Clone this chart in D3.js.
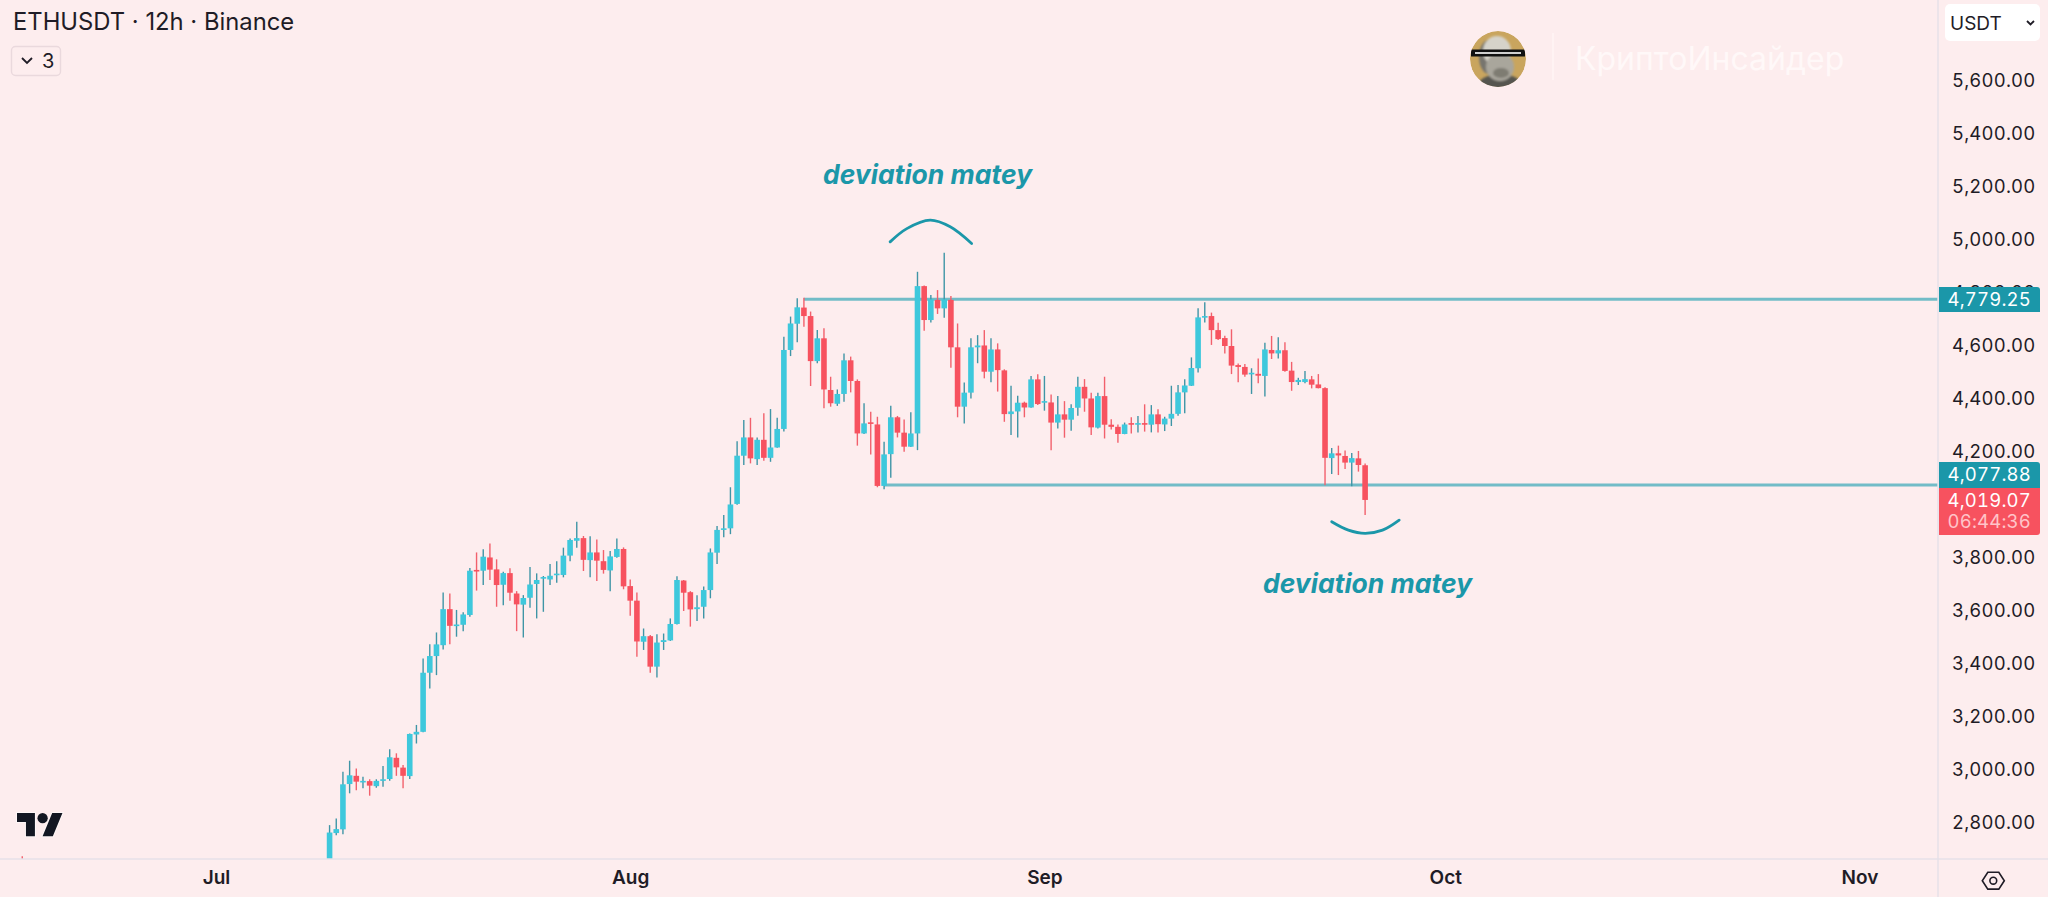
<!DOCTYPE html>
<html>
<head>
<meta charset="utf-8">
<title>ETHUSDT 12h</title>
<script src="https://cdn.jsdelivr.net/npm/d3@7"></script>
<style>
  html, body { margin: 0; padding: 0; background: #fdedee; overflow: hidden; }
  svg { display: block; }
  text { font-family: Inter, "Noto Sans", sans-serif; }
  .nums, .nums text { font-variant-numeric: tabular-nums; font-feature-settings: "tnum"; }
</style>
</head>
<body>
<div id="chart-area"></div>
<script>
// candles are 12h apart, starting at firstCandle
const firstCandle = Date.UTC(2025, 6, 9, 12);

const opens = [
  2641,2762,2776,2947,2978,2953,2958,2939,2959,2966,
  3046,3009,2977,3134,3144,3367,3430,3471,3607,3543,
  3548,3585,3755,3752,3802,3757,3699,3743,3666,3624,
  3650,3702,3723,3719,3737,3736,3809,3865,3875,3792,
  3821,3788,3753,3804,3834,3694,3639,3484,3505,3390,
  3483,3489,3551,3715,3671,3607,3616,3679,3820,3907,
  3912,4004,4186,4255,4173,4246,4178,4217,4287,4585,
  4684,4745,4713,4543,4629,4434,4382,4419,4546,4468,
  4270,4312,4304,4072,4192,4331,4273,4220,4270,4826,
  4698,4774,4742,4774,4595,4371,4424,4595,4602,4503,
  4587,4508,4343,4353,4386,4368,4474,4387,4387,4311,
  4342,4322,4367,4446,4402,4292,4411,4303,4295,4268,
  4309,4304,4309,4303,4342,4304,4326,4344,4425,4450,
  4516,4707,4713,4660,4630,4600,4528,4521,4495,4495,
  4487,4585,4572,4584,4507,4464,4464,4474,4455,4441,
  4177,4195,4185,4160,4176,4150
];
const highs = [
  2792,2817,2993,3035,3006,2975,2965,2965,3015,3078,
  3063,3019,3138,3170,3421,3475,3519,3670,3666,3604,
  3595,3762,3821,3833,3855,3795,3748,3761,3675,3660,
  3766,3742,3732,3777,3788,3839,3874,3937,3883,3882,
  3870,3830,3826,3874,3840,3719,3670,3534,3509,3512,
  3515,3572,3731,3717,3675,3659,3692,3836,3921,3962,
  4067,4241,4321,4329,4255,4346,4362,4329,4635,4711,
  4780,4782,4730,4660,4667,4484,4436,4572,4560,4474,
  4384,4352,4333,4239,4375,4336,4323,4350,4880,4828,
  4792,4811,4952,4789,4685,4462,4629,4641,4660,4629,
  4610,4512,4450,4412,4390,4487,4493,4487,4417,4411,
  4392,4380,4484,4475,4424,4424,4484,4324,4304,4311,
  4331,4336,4380,4377,4361,4333,4450,4453,4475,4557,
  4742,4765,4726,4688,4639,4663,4534,4532,4516,4553,
  4612,4638,4633,4614,4540,4480,4506,4487,4494,4444,
  4215,4224,4206,4196,4204,4157
];
const lows = [
  2635,2754,2758,2912,2924,2931,2903,2933,2937,2959,
  2978,2931,2966,3100,3142,3308,3358,3455,3475,3503,
  3524,3578,3677,3698,3717,3616,3622,3639,3524,3500,
  3612,3572,3597,3698,3707,3727,3788,3839,3751,3727,
  3713,3741,3675,3801,3682,3582,3427,3453,3367,3349,
  3453,3487,3549,3600,3541,3562,3572,3648,3777,3878,
  3890,4001,4151,4157,4151,4167,4163,4216,4277,4562,
  4614,4673,4449,4535,4365,4371,4374,4390,4425,4224,
  4268,4191,4067,4059,4103,4255,4201,4219,4207,4658,
  4689,4721,4707,4518,4331,4308,4402,4535,4478,4463,
  4428,4314,4264,4255,4331,4367,4377,4356,4207,4289,
  4254,4280,4337,4352,4264,4289,4251,4285,4235,4267,
  4270,4274,4277,4274,4274,4279,4298,4337,4346,4449,
  4500,4689,4604,4623,4572,4494,4463,4484,4419,4459,
  4409,4551,4553,4503,4431,4453,4459,4440,4440,4075,
  4117,4113,4136,4071,4126,3962
];
const closes = [
  2764,2777,2946,2980,2956,2959,2941,2959,2965,3048,
  3010,2978,3136,3144,3367,3430,3474,3607,3544,3549,
  3587,3752,3751,3805,3756,3698,3743,3669,3625,3649,
  3700,3717,3728,3733,3741,3809,3868,3875,3793,3821,
  3790,3755,3806,3834,3693,3639,3485,3505,3390,3481,
  3490,3551,3717,3669,3606,3614,3679,3821,3906,3912,
  4002,4186,4255,4176,4246,4178,4217,4287,4585,4685,
  4746,4713,4543,4629,4436,4384,4419,4546,4468,4270,
  4308,4307,4072,4191,4331,4273,4220,4270,4826,4698,
  4776,4742,4776,4595,4371,4424,4595,4602,4503,4587,
  4509,4343,4353,4386,4368,4474,4381,4392,4311,4342,
  4322,4366,4446,4402,4293,4411,4303,4295,4268,4304,
  4303,4309,4304,4342,4305,4326,4344,4425,4451,4517,
  4708,4713,4660,4626,4600,4526,4521,4492,4499,4488,
  4587,4572,4584,4506,4464,4472,4475,4454,4441,4178,
  4195,4187,4160,4177,4151,4019.07
];

// the tip of one older candle still pokes above the time axis
const strayIndex = -46, strayOHLC = [2640, 2675, 2620, 2630];

const priceTicks = [5600, 5400, 5200, 5000, 4800, 4600, 4400, 4200, 3800, 3600, 3400, 3200, 3000, 2800];
const monthTicks = [Date.UTC(2025,6,1), Date.UTC(2025,7,1), Date.UTC(2025,8,1), Date.UTC(2025,9,1), Date.UTC(2025,10,1)];

const rangeHigh = 4779.25, rangeLow = 4077.88, lastPrice = 4019.07;
const rangeHighStart = 71, rangeLowStart = 83;   // candle index the drawn lines start from
const countdown = "06:44:36";

// hand drawn arcs: candle index / price
const arcTopIdx = [83.9, 86.4, 89.9, 92.9, 96.1];
const arcTopPrice = [4993, 5043, 5075, 5050, 4987];
const arcBotIdx = [150, 152.5, 155, 157.6, 160.1];
const arcBotPrice = [3937, 3905, 3893, 3905, 3943];

const width = 2048, height = 897;
const plotRight = 1938, plotBottom = 859;

const bg = "#fdedee", ink = "#1f1c26", gridLine = "#e6e0e8";
const upBody = "#3ec8dc", upWick = "#3f95a6", downBody = "#f7525f", downWick = "#f2606c";
const teal = "#1b97a9", tealLine = "#72bcc7";

const x = d3.scaleUtc().domain([monthTicks[0], monthTicks[4]]).range([216, 1859.5]);
const y = d3.scaleLinear().domain([5600, 2800]).range([81, 823]);

const idxToX = i => x(firstCandle + i * 12 * 3600 * 1000);

const candles = opens.map((o, i) => ({i: i, open: o, high: highs[i], low: lows[i], close: closes[i]}));
candles.unshift({i: strayIndex, open: strayOHLC[0], high: strayOHLC[1], low: strayOHLC[2], close: strayOHLC[3]});

const svg = d3.select("#chart-area").append("svg").attr("width", width).attr("height", height);
svg.append("rect").attr("width", width).attr("height", height).attr("fill", bg);

svg.append("clipPath").attr("id", "plot-clip").append("rect")
  .attr("width", plotRight).attr("height", plotBottom);

const plot = svg.append("g").attr("clip-path", "url(#plot-clip)");

// range lines sit behind the candles
plot.selectAll("line.range")
  .data([[rangeHigh, rangeHighStart], [rangeLow, rangeLowStart]])
  .join("line").attr("class", "range")
  .attr("x1", d => idxToX(d[1])).attr("x2", plotRight)
  .attr("y1", d => y(d[0]) + 0.7).attr("y2", d => y(d[0]) + 0.7)
  .attr("stroke", tealLine).attr("stroke-width", 3);

const candleG = plot.selectAll("g.candle").data(candles).join("g").attr("class", "candle");
candleG.append("line")
  .attr("x1", d => idxToX(d.i)).attr("x2", d => idxToX(d.i))
  .attr("y1", d => y(d.high)).attr("y2", d => y(d.low))
  .attr("stroke", d => d.close >= d.open ? upWick : downWick)
  .attr("stroke-width", 1.4);
candleG.append("rect")
  .attr("x", d => idxToX(d.i) - 2.8)
  .attr("width", 5.6)
  .attr("y", d => y(Math.max(d.open, d.close)))
  .attr("height", d => Math.max(1.6, Math.abs(y(d.open) - y(d.close))))
  .attr("fill", d => d.close >= d.open ? upBody : downBody);

// arcs
const arcLine = d3.line().x(d => idxToX(d[0])).y(d => y(d[1])).curve(d3.curveCatmullRom);
[[arcTopIdx, arcTopPrice], [arcBotIdx, arcBotPrice]].forEach(a => {
  svg.append("path")
    .attr("d", arcLine(a[0].map((v, i) => [v, a[1][i]])))
    .attr("fill", "none").attr("stroke", teal)
    .attr("stroke-width", 2.8).attr("stroke-linecap", "round");
});

// annotations
[[823, 184], [1263, 593]].forEach(p => {
  svg.append("text").attr("x", p[0]).attr("y", p[1])
    .attr("font-size", 26.5).attr("font-weight", 700).attr("font-style", "italic")
    .attr("fill", teal).text("deviation matey");
});

// axes
const priceAxis = d3.axisRight(y).tickValues(priceTicks).tickFormat(d3.format(",.2f")).tickSize(0).tickPadding(14);
const priceG = svg.append("g").attr("class", "nums").attr("transform", `translate(${plotRight},0)`).call(priceAxis);
priceG.select(".domain").remove();
priceG.selectAll("text").attr("font-size", 18.5).attr("font-family", "Inter").attr("fill", ink)
  .attr("letter-spacing", 0.2);

const timeAxis = d3.axisBottom(x).tickValues(monthTicks).tickFormat(d3.utcFormat("%b")).tickSize(0).tickPadding(12);
const timeG = svg.append("g").attr("transform", `translate(0,${plotBottom})`).call(timeAxis);
timeG.select(".domain").remove();
timeG.selectAll("text").attr("font-size", 19).attr("font-weight", 600).attr("font-family", "Inter").attr("fill", ink);

svg.append("line").attr("x1", 0).attr("x2", width).attr("y1", plotBottom).attr("y2", plotBottom)
  .attr("stroke", gridLine).attr("stroke-width", 1.5);
svg.append("line").attr("x1", plotRight).attr("x2", plotRight).attr("y1", 0).attr("y2", height)
  .attr("stroke", gridLine).attr("stroke-width", 1.5);

// price tags on the axis
function priceTag(price, top, h, fill, roundTop, roundBottom, baseline) {
  const l = plotRight + 1, r = 2040, rad = 3;
  const path = d3.path();
  path.moveTo(l, top);
  path.lineTo(r - (roundTop ? rad : 0), top);
  if (roundTop) path.quadraticCurveTo(r, top, r, top + rad);
  path.lineTo(r, top + h - (roundBottom ? rad : 0));
  if (roundBottom) path.quadraticCurveTo(r, top + h, r - rad, top + h);
  path.lineTo(l, top + h);
  path.closePath();
  svg.append("path").attr("d", path.toString()).attr("fill", fill);
  svg.append("text").attr("class", "nums").attr("x", 2031).attr("y", baseline)
    .attr("text-anchor", "end").attr("font-size", 18.5).attr("letter-spacing", 0.2)
    .attr("fill", "#ffffff").text(d3.format(",.2f")(price));
}
priceTag(rangeHigh, 287, 25, teal, true, false, 306);
priceTag(rangeLow, 462, 26, teal, true, false, 481);
priceTag(lastPrice, 488, 47, downBody, false, true, 507);
svg.selectAll("text.count").data([countdown]).join("text").attr("class", "count nums")
  .attr("x", 2031).attr("y", 528).attr("text-anchor", "end").attr("font-size", 18.5).attr("letter-spacing", 0.2)
  .attr("fill", "#ffc4c9").text(d => d);

// header
svg.append("text").attr("x", 13).attr("y", 30).attr("font-size", 23.8).attr("fill", ink)
  .text("ETHUSDT · 12h · Binance");
svg.append("rect").attr("x", 11.5).attr("y", 46.5).attr("width", 49).attr("height", 29).attr("rx", 4)
  .attr("fill", "none").attr("stroke", "#ead9dd").attr("stroke-width", 1.4);
svg.append("path").attr("d", "M22 58l5 5l5-5").attr("fill", "none").attr("stroke", ink).attr("stroke-width", 1.8);
svg.append("text").attr("x", 42).attr("y", 68).attr("font-size", 20).attr("fill", ink).text("3");

// currency selector
svg.append("rect").attr("x", 1945).attr("y", 4).attr("width", 95).attr("height", 37).attr("rx", 5).attr("fill", "#ffffff");
svg.append("text").attr("x", 1950).attr("y", 30).attr("font-size", 19).attr("fill", ink).text("USDT");
svg.append("path").attr("d", "M2027 21l3.5 3.5l3.5-3.5").attr("fill", "none").attr("stroke", ink).attr("stroke-width", 1.8);

// settings icon
const hexR = 11;
svg.append("path")
  .attr("d", d3.line()(d3.range(6).map(k => [1993.3 + hexR * Math.cos(k * Math.PI / 3), 880.7 + hexR * 0.88 * Math.sin(k * Math.PI / 3)])) + "Z")
  .attr("fill", "none").attr("stroke", ink).attr("stroke-width", 1.6);
svg.append("circle").attr("cx", 1993.3).attr("cy", 880.7).attr("r", 3.4)
  .attr("fill", "none").attr("stroke", ink).attr("stroke-width", 1.6);

// tradingview logo
const logo = svg.append("g").attr("transform", "translate(17,808) scale(1.28)");
logo.append("path").attr("d", "M14 22H7V11H0V4h14v18zM28 22h-8l7.5-18h8L28 22z")
  .attr("fill", "#131722").attr("stroke", "#ffffff").attr("stroke-opacity", 0.55).attr("stroke-width", 1.6).attr("paint-order", "stroke");
logo.append("circle").attr("cx", 20).attr("cy", 8).attr("r", 4).attr("fill", "#131722");

// watermark: rough portrait badge
svg.append("filter").attr("id", "soft").append("feGaussianBlur").attr("stdDeviation", 0.9);
svg.append("clipPath").attr("id", "badge-clip").append("circle").attr("cx", 1498).attr("cy", 59).attr("r", 28);
const badge = svg.append("g").attr("clip-path", "url(#badge-clip)").append("g").attr("transform", "translate(1498,59)");
badge.append("circle").attr("r", 28).attr("fill", "#c9a55e");
const face = badge.append("g").attr("filter", "url(#soft)");
face.append("ellipse").attr("cx", 2).attr("cy", 27).attr("rx", 22).attr("ry", 12).attr("fill", "#55544f");
face.append("ellipse").attr("cx", -9).attr("cy", -2).attr("rx", 10).attr("ry", 17).attr("fill", "#77756e");
face.append("ellipse").attr("cx", -1).attr("cy", -8).attr("rx", 14).attr("ry", 15).attr("fill", "#d6d3ca");
face.append("ellipse").attr("cx", 2).attr("cy", 8).attr("rx", 14).attr("ry", 14).attr("fill", "#a9a69c");
face.append("ellipse").attr("cx", 3).attr("cy", 14).attr("rx", 8).attr("ry", 5).attr("fill", "#7e7b72");
badge.append("rect").attr("x", -27).attr("y", -9.5).attr("width", 54).attr("height", 7).attr("fill", "#111");
badge.append("rect").attr("x", -23).attr("y", -7).attr("width", 46).attr("height", 2).attr("fill", "#cfcfcf");
svg.append("line").attr("x1", 1553).attr("x2", 1553).attr("y1", 33).attr("y2", 80)
  .attr("stroke", "#fff4f5").attr("stroke-width", 1.5);
svg.append("text").attr("x", 1575).attr("y", 70).attr("font-size", 32).attr("fill", "#fff8f8")
  .text("КриптоИнсайдер");
</script>
</body>
</html>
